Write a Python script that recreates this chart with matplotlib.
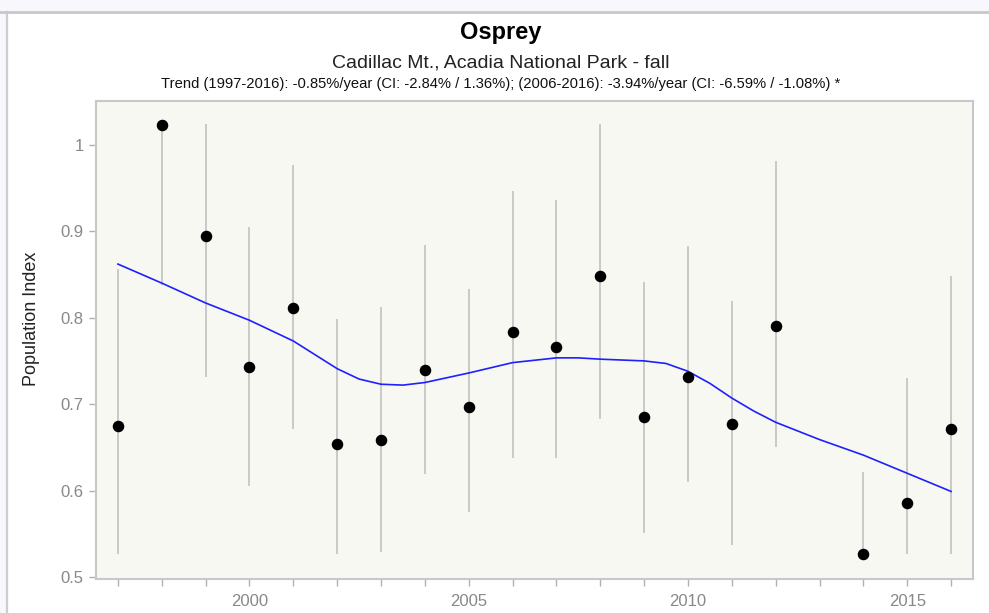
import matplotlib
matplotlib.use('Agg')
import matplotlib.pyplot as plt
from matplotlib.patches import Rectangle
from matplotlib.ticker import MultipleLocator, FixedLocator

plt.rcParams['font.family'] = ['Liberation Sans', 'DejaVu Sans']

# yearly index with confidence bounds (2013 missing)
years = [1997, 1998, 1999, 2000, 2001, 2002, 2003, 2004, 2005, 2006,
         2007, 2008, 2009, 2010, 2011, 2012, 2014, 2015, 2016]
index = [0.675, 1.023, 0.894, 0.743, 0.811, 0.654, 0.659, 0.740, 0.697, 0.783,
         0.766, 0.848, 0.685, 0.731, 0.677, 0.790, 0.527, 0.586, 0.671]
ci_low = [0.527, 0.838, 0.731, 0.605, 0.671, 0.527, 0.529, 0.619, 0.575, 0.638,
          0.638, 0.683, 0.551, 0.610, 0.537, 0.650, 0.527, 0.527, 0.527]
ci_high = [0.856, 1.023, 1.024, 0.905, 0.977, 0.798, 0.812, 0.884, 0.833, 0.947,
           0.936, 1.024, 0.841, 0.883, 0.819, 0.981, 0.621, 0.730, 0.848]

# smoothed trend
trend_x = [1997, 1998, 1999, 2000, 2001, 2002, 2002.5, 2003, 2003.5, 2004, 2005,
           2006, 2007, 2007.5, 2008, 2009, 2009.5, 2010, 2010.5, 2011, 2011.5,
           2012, 2013, 2014, 2015, 2016]
trend_y = [0.862, 0.840, 0.817, 0.797, 0.773, 0.741, 0.729, 0.723, 0.722, 0.725, 0.736,
           0.748, 0.7535, 0.7535, 0.752, 0.750, 0.747, 0.738, 0.724, 0.707, 0.692,
           0.679, 0.659, 0.641, 0.620, 0.599]

title = 'Osprey'
subtitle = 'Cadillac Mt., Acadia National Park - fall'
trend_text = ('Trend (1997-2016): -0.85%/year (CI: -2.84% / 1.36%); '
              '(2006-2016): -3.94%/year (CI: -6.59% / -1.08%) *')

fig = plt.figure(figsize=(9.89, 6.13), dpi=100)
fig.patch.set_facecolor('#f7f7fc')
# white panel with grey frame on top/left
W, H = 989, 613
fig.patches.append(Rectangle((7 / W, 0), 1, 1 - 12 / H, transform=fig.transFigure,
                             facecolor='white', edgecolor='none', zorder=-5))
fig.add_artist(plt.Line2D([7 / W, 7 / W], [0, 1 - 11.5 / H], transform=fig.transFigure,
                          color='#cdcdcd', lw=1.6, zorder=-4))
fig.add_artist(plt.Line2D([0, 1], [1 - 11.5 / H, 1 - 11.5 / H], transform=fig.transFigure,
                          color='#c8c8c8', lw=2, zorder=-4))

ax = fig.add_axes([96 / W, 34 / H, (973 - 96) / W, (579 - 100.7) / H])
ax.set_facecolor('#f8f8f3')

ax.vlines(years, ci_low, ci_high, color='#bdbdbd', lw=1.1, zorder=2)
ax.plot(trend_x, trend_y, color='#1f1fff', lw=1.2, zorder=3)
ax.plot(years, index, 'o', color='black', ms=7.3, zorder=4)

ax.set_xlim(1996.5, 2016.5)
ax.set_ylim(0.4977, 1.051)
ax.xaxis.set_major_locator(FixedLocator([2000, 2005, 2010, 2015]))
ax.xaxis.set_minor_locator(MultipleLocator(1))
ax.set_yticks([0.5, 0.6, 0.7, 0.8, 0.9, 1.0])
ax.set_yticklabels(['0.5', '0.6', '0.7', '0.8', '0.9', '1'])

for s in ax.spines.values():
    s.set_color('#c8c8c8')
    s.set_linewidth(1.5)
ax.tick_params(which='both', color='#b0b0b0', length=5, width=1,
               labelcolor='#888888', labelsize=12)
ax.tick_params(axis='x', pad=6)
ax.tick_params(axis='y', pad=4)

ax.set_ylabel('Population Index', fontsize=13, color='#222222')
ax.yaxis.set_label_coords(-0.064, 0.545)

cx = 501 / W
fig.text(cx, 1 - 39 / H, title, ha='center', va='baseline', fontsize=17, fontweight='bold')
fig.text(cx, 1 - 67 / H, subtitle, ha='center', va='baseline', fontsize=14, color='#222222')
fig.text(cx, 1 - 88 / H, trend_text, ha='center', va='baseline', fontsize=10.6, color='#111111')

fig.savefig('out.png', dpi=100)
